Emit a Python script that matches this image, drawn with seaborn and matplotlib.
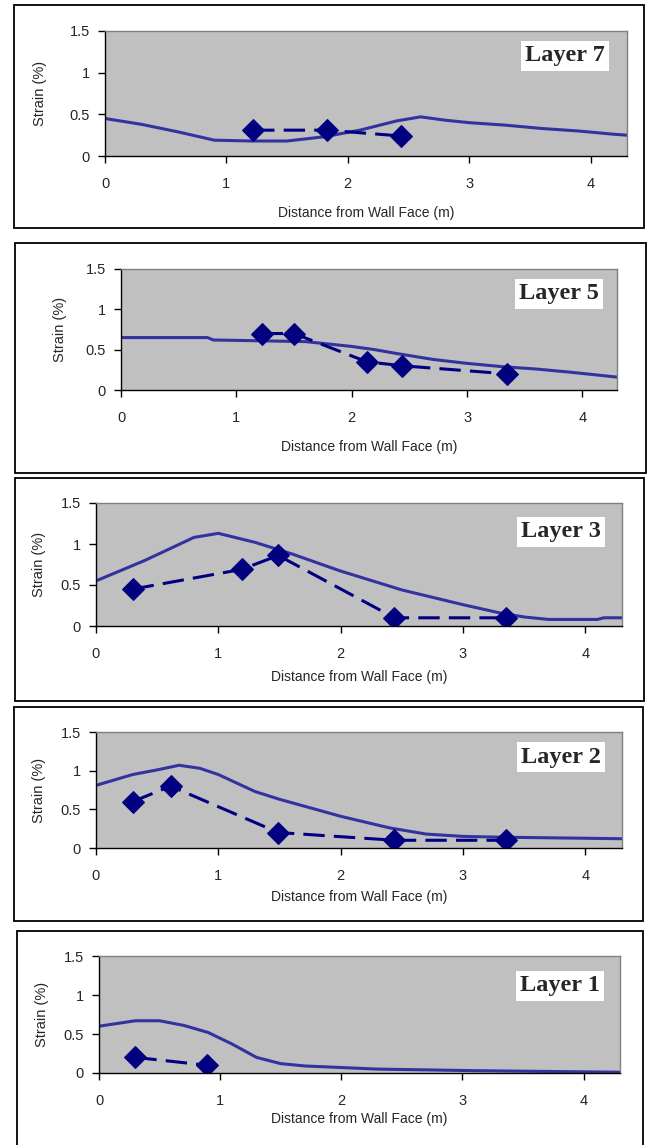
import matplotlib
matplotlib.use('Agg')

import numpy as np
import seaborn as sns
import matplotlib.pyplot as plt
from matplotlib.patches import Rectangle

# ---- data ----
layer_names = ["Layer 7", "Layer 5", "Layer 3", "Layer 2", "Layer 1"]

# predicted strain (solid line)
l7_pred_x = [0, 0.3, 0.6, 0.9, 1.2, 1.5, 1.8, 2.1, 2.4, 2.6, 2.8, 3.0, 3.3, 3.6, 3.9, 4.2, 4.3]
l7_pred_y = [0.45, 0.38, 0.29, 0.19, 0.18, 0.18, 0.23, 0.31, 0.42, 0.47, 0.43, 0.40, 0.37, 0.33, 0.30, 0.26, 0.25]
l5_pred_x = [0, 0.75, 0.8, 1.2, 1.6, 1.8, 2.0, 2.2, 2.4, 2.7, 3.0, 3.3, 3.6, 3.9, 4.1, 4.3]
l5_pred_y = [0.65, 0.65, 0.62, 0.61, 0.60, 0.57, 0.54, 0.50, 0.45, 0.38, 0.33, 0.29, 0.26, 0.22, 0.19, 0.16]
l3_pred_x = [0, 0.4, 0.8, 1.0, 1.3, 1.6, 2.0, 2.5, 3.0, 3.3, 3.5, 3.7, 4.1, 4.15, 4.3]
l3_pred_y = [0.55, 0.80, 1.08, 1.13, 1.02, 0.88, 0.67, 0.44, 0.26, 0.16, 0.11, 0.08, 0.08, 0.10, 0.10]
l2_pred_x = [0, 0.3, 0.5, 0.68, 0.85, 1.0, 1.3, 1.5, 2.0, 2.4, 2.7, 3.0, 3.3, 4.3]
l2_pred_y = [0.81, 0.95, 1.01, 1.07, 1.03, 0.95, 0.73, 0.63, 0.41, 0.26, 0.18, 0.15, 0.14, 0.12]
l1_pred_x = [0, 0.3, 0.5, 0.7, 0.9, 1.1, 1.3, 1.5, 1.7, 2.0, 2.3, 3.1, 4.3]
l1_pred_y = [0.60, 0.67, 0.67, 0.61, 0.52, 0.37, 0.20, 0.12, 0.09, 0.07, 0.05, 0.03, 0.01]

# measured strain (dashed with diamonds)
l7_meas_x = [1.22, 1.83, 2.44]
l7_meas_y = [0.31, 0.31, 0.24]
l5_meas_x = [1.22, 1.5, 2.13, 2.44, 3.35]
l5_meas_y = [0.70, 0.70, 0.35, 0.30, 0.20]
l3_meas_x = [0.3, 1.19, 1.49, 2.44, 3.35]
l3_meas_y = [0.45, 0.69, 0.86, 0.10, 0.10]
l2_meas_x = [0.3, 0.61, 1.49, 2.44, 3.35]
l2_meas_y = [0.60, 0.80, 0.20, 0.10, 0.10]
l1_meas_x = [0.3, 0.89]
l1_meas_y = [0.20, 0.10]

x_ticks = [0, 1, 2, 3, 4]
y_ticks = [0, 0.5, 1, 1.5]
y_tick_labels = ["0", "0.5", "1", "1.5"]

pred = [(l7_pred_x, l7_pred_y), (l5_pred_x, l5_pred_y), (l3_pred_x, l3_pred_y),
        (l2_pred_x, l2_pred_y), (l1_pred_x, l1_pred_y)]
meas = [(l7_meas_x, l7_meas_y), (l5_meas_x, l5_meas_y), (l3_meas_x, l3_meas_y),
        (l2_meas_x, l2_meas_y), (l1_meas_x, l1_meas_y)]

# ---- layout in pixels (left, right, top, bottom) ----
W, H = 654, 1145
axes_px = [(105, 627, 31, 156), (121, 617, 269, 390), (96, 622, 503, 626),
           (96, 622, 732, 848), (99, 620, 956, 1073)]
box_px = [(14, 644, 5, 228), (15, 646, 243, 473), (15, 644, 478, 701),
          (14, 643, 707, 921), (17, 643, 931, 1150)]
ylabel_x = [40, 60, 39, 39, 42]
xlabel_y = [213, 447, 677, 897, 1119]
name_center = [(565, 56), (559, 294), (561, 532), (561, 757), (560, 986)]

pred_color = '#3333a0'
meas_color = '#000080'

sns.set_style("ticks")
plt.rcParams['font.family'] = ['Liberation Sans', 'DejaVu Sans']

fig = plt.figure(figsize=(W / 100, H / 100), dpi=100)

for i in range(5):
    l, r, t, b = axes_px[i]
    ax = fig.add_axes([l / W, 1 - b / H, (r - l) / W, (b - t) / H])
    ax.set_facecolor('#c0c0c0')

    sns.lineplot(x=pred[i][0], y=pred[i][1], ax=ax, color=pred_color, linewidth=2.2, sort=False)
    sns.lineplot(x=meas[i][0], y=meas[i][1], ax=ax, color=meas_color, linewidth=2.2,
                 linestyle=(0, (7, 3)), marker='D', markersize=11,
                 markeredgecolor=meas_color, markerfacecolor=meas_color, sort=False)

    ax.set_xlim(0, 4.3)
    ax.set_ylim(0, 1.5)
    ax.set_xticks(x_ticks)
    ax.set_yticks(y_ticks)
    ax.set_yticklabels(y_tick_labels)
    ax.tick_params(direction='out', length=5, width=1, color='black', labelsize=10.5)
    ax.tick_params(axis='x', pad=10)
    ax.tick_params(axis='y', pad=6)

    for s in ['left', 'bottom']:
        ax.spines[s].set_color('black')
        ax.spines[s].set_linewidth(1)
    for s in ['top', 'right']:
        ax.spines[s].set_visible(True)
        ax.spines[s].set_color('#808080')
        ax.spines[s].set_linewidth(1)

    ax.set_xlabel("Distance from Wall Face (m)", fontsize=10, va='center')
    ax.xaxis.set_label_coords(0.5, -(xlabel_y[i] - b) / (b - t))
    ax.set_ylabel("Strain (%)", fontsize=10.5, va='center')
    ax.yaxis.set_label_coords(-(l - ylabel_x[i]) / (r - l), 0.5)

    cx, cy = name_center[i]
    ax.text((cx - l) / (r - l), (b - cy) / (b - t), layer_names[i], transform=ax.transAxes,
            ha='center', va='center', fontsize=17.5, fontweight='bold',
            family=['Liberation Serif', 'DejaVu Serif'],
            bbox=dict(facecolor='white', edgecolor='none', pad=3))

    bl, br, bt, bb = box_px[i]
    fig.add_artist(Rectangle((bl / W, 1 - bb / H), (br - bl) / W, (bb - bt) / H,
                             transform=fig.transFigure, fill=False,
                             edgecolor='black', linewidth=1.3))

fig.savefig('out.png', dpi=100, facecolor='white')
plt.close(fig)
